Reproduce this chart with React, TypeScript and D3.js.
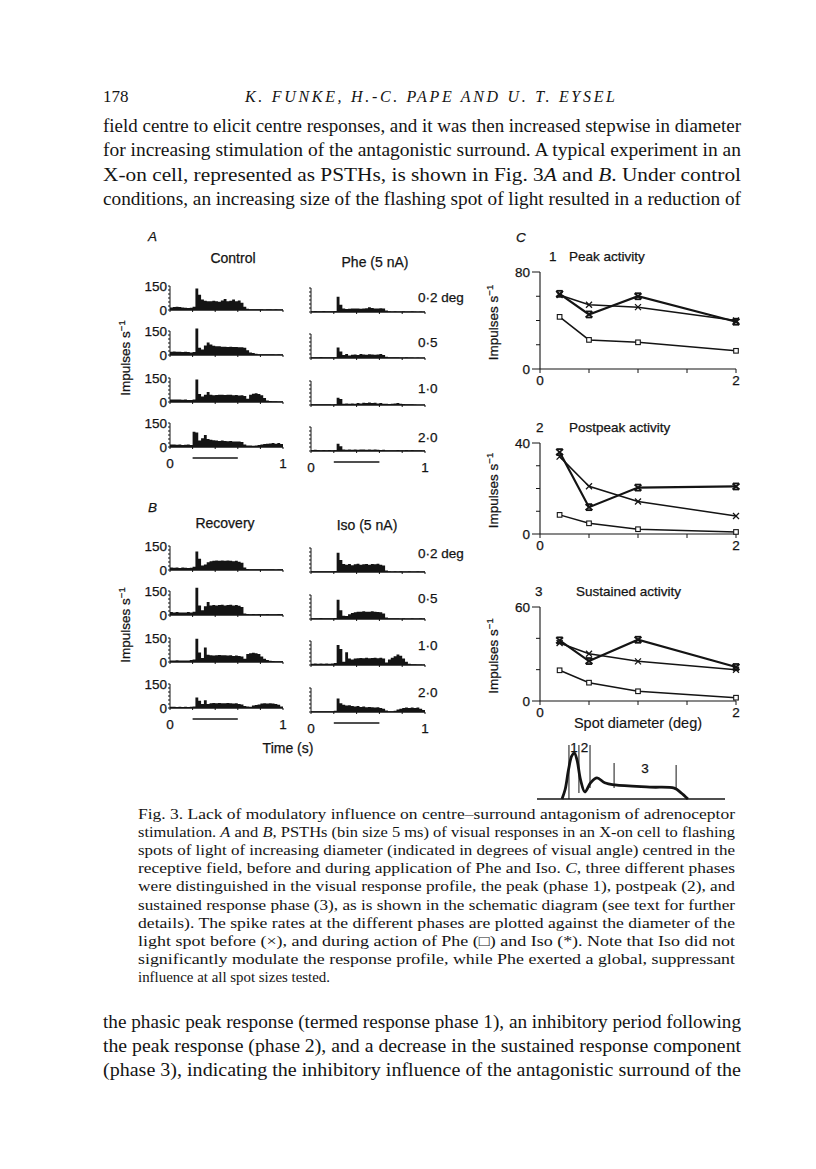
import React from "react";
import * as d3 from "d3";

// ---------- DATA ----------
const spotLabels = ["0·2 deg", "0·5", "1·0", "2·0"];
const binCount = 40; // bins over 0–1 s

// Panel A – Control
const ctl02 = [15,18,20,18,15,14,12,14,20,135,95,65,58,55,55,58,55,52,60,68,55,58,65,55,60,45,20,8,5,5,4,5,4,3,5,4,3,4,3,3];
const ctl05 = [20,22,20,20,18,20,18,15,18,165,45,35,60,78,65,58,55,55,52,52,50,52,50,50,48,48,45,30,15,12,8,5,5,4,5,4,4,3,4,3];
const ctl10 = [15,15,16,15,14,15,12,12,15,140,50,35,45,62,45,42,44,45,46,44,46,45,42,44,40,42,38,20,45,52,55,50,42,25,10,6,5,4,3,3];
const ctl20 = [15,15,14,15,12,14,15,12,95,90,40,55,75,50,45,42,40,38,40,38,36,38,35,35,34,32,15,10,10,8,10,12,15,18,20,22,25,20,25,18];
// Panel A – Phe
const phe02 = [5,6,5,5,6,4,5,4,6,95,45,22,18,20,22,22,22,20,22,24,30,25,22,22,24,22,10,4,3,4,3,3,4,3,3,4,3,2,3,2];
const phe05 = [5,4,5,6,5,4,5,5,5,65,40,18,25,15,20,22,18,25,22,20,24,22,20,22,25,18,8,5,4,5,4,3,3,4,3,3,2,3,2,2];
const phe10 = [4,5,4,4,5,4,4,3,5,45,38,8,10,8,10,8,12,10,14,12,15,12,14,10,12,8,8,6,8,10,12,8,6,5,5,4,3,2,2,2];
const phe20 = [6,8,6,5,6,5,6,5,6,45,30,10,8,10,8,10,8,10,9,8,10,8,9,8,7,8,5,5,4,5,6,5,4,6,5,6,5,4,4,3];
// Panel B – Recovery
const rec02 = [15,14,16,12,15,14,12,14,20,115,70,28,35,48,55,58,60,58,60,58,60,58,55,58,52,45,15,6,5,4,5,4,5,4,4,5,4,3,4,4];
const rec05 = [18,16,18,15,16,15,18,16,20,170,60,30,55,82,60,62,60,62,64,60,62,64,60,62,58,50,10,6,5,6,5,6,5,5,6,4,5,4,6,4];
const rec10 = [10,10,11,10,10,10,10,12,15,145,60,25,90,45,42,40,42,44,42,42,40,42,38,40,38,35,20,50,55,58,55,50,35,20,12,8,6,5,4,4];
const rec20 = [8,8,7,8,6,8,7,8,10,65,45,25,48,25,30,32,30,32,30,30,32,30,28,30,25,22,12,10,8,15,18,22,28,30,28,30,28,25,20,10];
// Panel B – Iso
const iso02 = [5,4,5,4,5,4,5,4,6,120,75,50,45,50,42,48,52,45,48,50,45,50,48,52,45,40,10,4,3,4,3,4,3,3,4,3,3,4,3,3];
const iso05 = [5,5,4,6,5,4,5,5,6,120,55,20,18,30,38,42,45,45,48,45,46,48,45,44,42,35,10,5,4,5,4,3,4,3,3,4,3,3,4,3];
const iso10 = [8,10,8,9,8,10,8,10,12,125,100,20,80,40,35,40,42,44,42,45,42,44,45,42,45,40,15,35,45,55,65,58,40,20,8,5,4,3,3,2];
const iso20 = [5,5,4,5,5,4,5,5,8,85,55,45,40,42,38,35,38,32,35,30,32,30,28,30,25,20,10,5,4,8,15,20,25,28,25,28,25,28,20,12];

const controlRows = [ctl02, ctl05, ctl10, ctl20];
const pheRows = [phe02, phe05, phe10, phe20];
const recoveryRows = [rec02, rec05, rec10, rec20];
const isoRows = [iso02, iso05, iso10, iso20];

// Panel C
const spotDiameters = [0.2, 0.5, 1.0, 2.0];
const peakControl = [61, 53, 51, 40];
const peakPhe = [43, 24, 22, 15];
const peakIso = [62, 45, 60, 39];
const postControl = [34, 21, 14.3, 7.9];
const postPhe = [8.4, 4.7, 2.1, 0.9];
const postIso = [36, 11.8, 20.4, 20.9];
const sustControl = [37, 30.2, 25.3, 20];
const sustPhe = [19.6, 11.7, 6.2, 2.1];
const sustIso = [38.7, 25.5, 39.1, 21.7];

// Schematic profile (time fraction, relative rate)
const schemT = [0.133, 0.15, 0.168, 0.185, 0.199, 0.213, 0.232, 0.255, 0.285, 0.319, 0.36, 0.415, 0.6, 0.73, 0.765, 0.803];
const schemV = [0, 0.18, 0.55, 0.8, 0.85, 0.72, 0.35, 0.13, 0.3, 0.39, 0.3, 0.26, 0.22, 0.2, 0.12, 0];
const schemBounds = [0.17, 0.223, 0.282, 0.41, 0.74];

// Text
const headerNum = "178";
const headerAuthors = "K. FUNKE, H.-C. PAPE AND U. T. EYSEL";
const topLines = [
  "field centre to elicit centre responses, and it was then increased stepwise in diameter",
  "for increasing stimulation of the antagonistic surround. A typical experiment in an",
  "X-on cell, represented as PSTHs, is shown in Fig. 3_A_ and _B_. Under control",
  "conditions, an increasing size of the flashing spot of light resulted in a reduction of",
];
const captionLines = [
  "Fig. 3. Lack of modulatory influence on centre–surround antagonism of adrenoceptor",
  "stimulation. _A_ and _B_, PSTHs (bin size 5 ms) of visual responses in an X-on cell to flashing",
  "spots of light of increasing diameter (indicated in degrees of visual angle) centred in the",
  "receptive field, before and during application of Phe and Iso. _C_, three different phases",
  "were distinguished in the visual response profile, the peak (phase 1), postpeak (2), and",
  "sustained response phase (3), as is shown in the schematic diagram (see text for further",
  "details). The spike rates at the different phases are plotted against the diameter of the",
  "light spot before (×), and during action of Phe (□) and Iso (*). Note that Iso did not",
  "significantly modulate the response profile, while Phe exerted a global, suppressant",
  "influence at all spot sizes tested.",
];
const bottomLines = [
  "the phasic peak response (termed response phase 1), an inhibitory period following",
  "the peak response (phase 2), and a decrease in the sustained response component",
  "(phase 3), indicating the inhibitory influence of the antagonistic surround of the",
];

// ---------- HELPERS ----------
const SERIF = "'Liberation Serif', 'DejaVu Serif', serif";
const SANS = "'Liberation Sans', Arial, sans-serif";
const INK = "#141414";
const FIG_FONT = 13.5;

function RichLine({ text, x, y, size, width }: any) {
  const parts = text.split("_");
  return (
    <text
      x={x}
      y={y}
      fontFamily={SERIF}
      fontSize={size}
      fill={INK}
      textLength={width}
      lengthAdjust="spacingAndGlyphs"
    >
      {parts.map((p: string, i: number) => (
        <tspan key={i} fontStyle={i % 2 === 1 ? "italic" : "normal"}>
          {p}
        </tspan>
      ))}
    </text>
  );
}

function FigText({ x, y, children, anchor, size, italic, weight }: any) {
  return (
    <text
      x={x}
      y={y}
      fontFamily={SANS}
      fontSize={size || FIG_FONT}
      fontStyle={italic ? "italic" : "normal"}
      fill={INK}
      stroke={INK}
      strokeWidth={weight === undefined ? 0.25 : weight}
      textAnchor={anchor || "start"}
    >
      {children}
    </text>
  );
}

function Psth({ vals, x0, x1, base, labels }: any) {
  const xs = d3.scaleLinear().domain([0, 1]).range([x0, x1]);
  const ys = d3.scaleLinear().domain([0, 150]).range([base, base - 24]);
  const bw = 1 / binCount;
  const pts: [number, number][] = vals.map((v: number, i: number) => [i * bw, v]);
  pts.push([1, vals[vals.length - 1]]);
  const area = d3
    .area<[number, number]>()
    .x((d) => xs(d[0]))
    .y0(ys(0))
    .y1((d) => ys(d[1]))
    .curve(d3.curveStepAfter);
  const yTicks = d3.range(0, 151, 25);
  const xTicks = d3.range(0, 1.01, 0.2);
  return (
    <g>
      <path d={area(pts) || ""} fill={INK} />
      <line x1={x0} x2={x0} y1={ys(0)} y2={ys(150)} stroke={INK} strokeWidth={1} />
      <line x1={x0} x2={x1} y1={ys(0)} y2={ys(0)} stroke={INK} strokeWidth={1.3} />
      {yTicks.map((t) => (
        <line key={"y" + t} x1={x0 - 2} x2={x0} y1={ys(t)} y2={ys(t)} stroke={INK} strokeWidth={1} />
      ))}
      {xTicks.map((t) => (
        <line key={"x" + t} x1={xs(t)} x2={xs(t)} y1={ys(0)} y2={ys(0) + 2} stroke={INK} strokeWidth={1} />
      ))}
      {labels && (
        <g>
          <FigText x={x0 - 3} y={ys(150) + 5} anchor="end">150</FigText>
          <FigText x={x0 - 3} y={ys(0) + 5} anchor="end">0</FigText>
        </g>
      )}
    </g>
  );
}

function PsthColumn({ rows, x0, x1, bases, labels, header, headerX, headerY }: any) {
  const xs = d3.scaleLinear().domain([0, 1]).range([x0, x1]);
  const last = bases[bases.length - 1];
  return (
    <g>
      <FigText x={headerX} y={headerY} anchor="middle" size={14}>{header}</FigText>
      {rows.map((r: number[], i: number) => (
        <Psth key={i} vals={r} x0={x0} x1={x1} base={bases[i]} labels={labels} />
      ))}
      <line x1={xs(0.2)} x2={xs(0.6)} y1={last + 11} y2={last + 11} stroke={INK} strokeWidth={1.4} />
      <FigText x={xs(0)} y={last + 21} anchor="middle">0</FigText>
      <FigText x={xs(1)} y={last + 21} anchor="middle">1</FigText>
    </g>
  );
}

function Marker({ kind, x, y }: any) {
  if (kind === "x") {
    return (
      <g stroke={INK} strokeWidth={1.3}>
        <line x1={x - 3} y1={y - 3} x2={x + 3} y2={y + 3} />
        <line x1={x - 3} y1={y + 3} x2={x + 3} y2={y - 3} />
      </g>
    );
  }
  if (kind === "sq") {
    return <rect x={x - 2.3} y={y - 2.3} width={4.6} height={4.6} fill="#fff" stroke={INK} strokeWidth={1.1} />;
  }
  return (
    <g stroke={INK} strokeWidth={1.8}>
      <line x1={x - 3.5} y1={y - 3} x2={x + 3.5} y2={y + 3} />
      <line x1={x - 3.5} y1={y + 3} x2={x + 3.5} y2={y - 3} />
      <line x1={x - 3} y1={y - 3} x2={x + 3} y2={y - 3} />
      <line x1={x - 3} y1={y + 3} x2={x + 3} y2={y + 3} />
    </g>
  );
}

function YLabel({ x, y }: any) {
  return (
    <text
      transform={`translate(${x},${y}) rotate(-90)`}
      fontFamily={SANS}
      fontSize={FIG_FONT}
      fill={INK}
      stroke={INK}
      strokeWidth={0.25}
      textAnchor="middle"
    >
      Impulses s<tspan dy={-5} fontSize={9.5}>−1</tspan>
    </text>
  );
}

function PhasePlot({ top, bottom, yMax, yStep, num, numX, title, titleX, series }: any) {
  const x0 = 540, x1 = 736;
  const xs = d3.scaleLinear().domain([0, 2]).range([x0, x1]);
  const ys = d3.scaleLinear().domain([0, yMax]).range([bottom, top]);
  const line = d3
    .line<number>()
    .x((_, i) => xs(spotDiameters[i]))
    .y((d) => ys(d));
  const yTicks = d3.range(0, yMax + 0.01, yStep);
  const xTicks = d3.range(0, 2.01, 0.5);
  return (
    <g>
      <FigText x={numX} y={top - 11}>{num}</FigText>
      <FigText x={titleX} y={top - 11}>{title}</FigText>
      <line x1={x0} x2={x0} y1={ys(0)} y2={ys(yMax)} stroke={INK} strokeWidth={1.1} />
      <line x1={x0} x2={x1} y1={ys(0)} y2={ys(0)} stroke={INK} strokeWidth={1.2} />
      {yTicks.map((t: number) => (
        <line
          key={"y" + t}
          x1={x0 - (t === 0 || t === yMax ? 8 : 4)}
          x2={x0}
          y1={ys(t)}
          y2={ys(t)}
          stroke={INK}
          strokeWidth={1}
        />
      ))}
      {xTicks.map((t: number) => (
        <line key={"x" + t} x1={xs(t)} x2={xs(t)} y1={ys(0)} y2={ys(0) + 4} stroke={INK} strokeWidth={1} />
      ))}
      <FigText x={x0 - 10} y={ys(yMax) + 5} anchor="end">{yMax}</FigText>
      <FigText x={x0 - 10} y={ys(0) + 5} anchor="end">0</FigText>
      <FigText x={xs(0)} y={ys(0) + 16} anchor="middle">0</FigText>
      <FigText x={xs(2)} y={ys(0) + 16} anchor="middle">2</FigText>
      <YLabel x={x0 - 42} y={(top + bottom) / 2 + 2} />
      {series.map((s: any, k: number) => (
        <g key={k}>
          <path d={line(s.vals) || ""} fill="none" stroke={INK} strokeWidth={s.w} />
          {s.vals.map((v: number, i: number) => (
            <Marker key={i} kind={s.kind} x={xs(spotDiameters[i])} y={ys(v)} />
          ))}
        </g>
      ))}
    </g>
  );
}

function Schematic() {
  const xs = d3.scaleLinear().domain([0, 1]).range([537, 725]);
  const ys = d3.scaleLinear().domain([0, 1]).range([799, 745]);
  const line = d3
    .line<number>()
    .x((_, i) => xs(schemT[i]))
    .y((d) => ys(d))
    .curve(d3.curveCatmullRom.alpha(0.5));
  const tops = [745, 745, 745, 763, 765];
  const ends = [799, 793, 788, 788, 789];
  return (
    <g>
      <line x1={xs(0)} x2={xs(1)} y1={ys(0)} y2={ys(0)} stroke={INK} strokeWidth={1.4} />
      {schemBounds.map((b, i) => (
        <line key={i} x1={xs(b)} x2={xs(b)} y1={tops[i]} y2={ends[i]} stroke={INK} strokeWidth={1} />
      ))}
      <path d={line(schemV) || ""} fill="none" stroke={INK} strokeWidth={2.8} strokeLinejoin="round" />
      <FigText x={(xs(schemBounds[0]) + xs(schemBounds[1])) / 2} y={752} anchor="middle">1</FigText>
      <FigText x={(xs(schemBounds[1]) + xs(schemBounds[2])) / 2} y={752} anchor="middle">2</FigText>
      <FigText x={(xs(schemBounds[3]) + xs(schemBounds[4])) / 2} y={773} anchor="middle">3</FigText>
    </g>
  );
}

function SpotLabels({ ys }: any) {
  return (
    <g>
      {spotLabels.map((l, i) => (
        <FigText key={i} x={418} y={ys[i] + 5}>{l}</FigText>
      ))}
    </g>
  );
}

export default function App() {
  const aLeft = [310, 355, 402, 447];
  const aRight = [312, 358, 405, 451];
  const bLeft = [570, 615, 662, 708];
  const bRight = [572, 619, 665, 712];
  return (
    <svg
      width={816}
      height={1169}
      viewBox="0 0 816 1169"
      style={{ position: "absolute", left: 0, top: 0, background: "#fff" }}
    >
      <rect width={816} height={1169} fill="#fff" />
      {/* header */}
      <text x={103} y={102} fontFamily={SERIF} fontSize={17} fill={INK}>{headerNum}</text>
      <text x={245} y={102} fontFamily={SERIF} fontSize={16} fontStyle="italic" fill={INK} textLength={370} lengthAdjust="spacing">
        {headerAuthors}
      </text>
      {topLines.map((l, i) => (
        <RichLine key={i} text={l} x={103} y={132 + i * 24.4} size={18} width={638} />
      ))}

      {/* Panel A */}
      <FigText x={148} y={241} italic={true}>A</FigText>
      <PsthColumn rows={controlRows} x0={170} x1={283} bases={aLeft} labels={true} header="Control" headerX={233} headerY={263} />
      <PsthColumn rows={pheRows} x0={311} x1={425} bases={aRight} labels={false} header="Phe (5 nA)" headerX={375} headerY={267} />
      <SpotLabels ys={[297, 342, 388, 437]} />
      <YLabel x={130} y={358} />

      {/* Panel B */}
      <FigText x={148} y={512} italic={true}>B</FigText>
      <PsthColumn rows={recoveryRows} x0={170} x1={283} bases={bLeft} labels={true} header="Recovery" headerX={225} headerY={528} />
      <PsthColumn rows={isoRows} x0={311} x1={425} bases={bRight} labels={false} header="Iso (5 nA)" headerX={367} headerY={530} />
      <SpotLabels ys={[553, 598, 645, 692]} />
      <YLabel x={130} y={625} />
      <FigText x={288} y={753} anchor="middle" size={14}>Time (s)</FigText>

      {/* Panel C */}
      <FigText x={516} y={242} italic={true}>C</FigText>
      <PhasePlot
        top={272} bottom={369} yMax={80} yStep={20} num="1" numX={549} title="Peak activity" titleX={569}
        series={[
          { vals: peakControl, kind: "x", w: 1.5 },
          { vals: peakPhe, kind: "sq", w: 1.5 },
          { vals: peakIso, kind: "iso", w: 2.2 },
        ]}
      />
      <PhasePlot
        top={443} bottom={534} yMax={40} yStep={10} num="2" numX={536} title="Postpeak activity" titleX={569}
        series={[
          { vals: postControl, kind: "x", w: 1.5 },
          { vals: postPhe, kind: "sq", w: 1.5 },
          { vals: postIso, kind: "iso", w: 2.2 },
        ]}
      />
      <PhasePlot
        top={607} bottom={701} yMax={60} yStep={20} num="3" numX={535} title="Sustained activity" titleX={576}
        series={[
          { vals: sustControl, kind: "x", w: 1.5 },
          { vals: sustPhe, kind: "sq", w: 1.5 },
          { vals: sustIso, kind: "iso", w: 2.2 },
        ]}
      />
      <FigText x={638} y={728} anchor="middle" size={14.5} weight={0.15}>Spot diameter (deg)</FigText>
      <Schematic />

      {/* caption */}
      {captionLines.map((l, i) => (
        <RichLine key={i} text={l} x={138} y={819 + i * 18.1} size={14.8} width={i < captionLines.length - 1 ? 597 : 192} />
      ))}

      {/* bottom text */}
      {bottomLines.map((l, i) => (
        <RichLine key={i} text={l} x={103} y={1028 + i * 24.2} size={18} width={638} />
      ))}
    </svg>
  );
}
